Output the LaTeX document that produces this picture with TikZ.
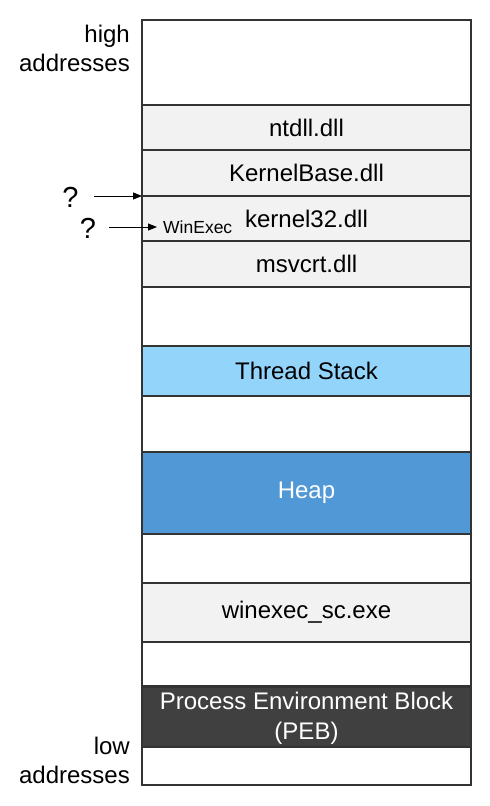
\documentclass[tikz,border=0pt]{standalone}
\usepackage{fontspec}
\setmainfont{Liberation Sans}
\usetikzlibrary{arrows.meta}
\definecolor{bandgray}{HTML}{F2F2F2}
\definecolor{stackblue}{HTML}{93D4FB}
\definecolor{heapblue}{HTML}{5198D6}
\definecolor{pebgray}{HTML}{404040}
\definecolor{edge}{HTML}{333333}
\begin{document}
\begin{tikzpicture}[x=1pt,y=-1pt,
  band/.style={draw=edge, line width=1.4pt, minimum width=329pt, inner sep=0pt, outer sep=0pt,
    font=\fontsize{24}{28}\selectfont, text=black, align=center},
  side/.style={font=\fontsize{24}{29}\selectfont, align=right, anchor=east, inner sep=0pt},
  qmark/.style={font=\fontsize{29}{30}\selectfont, inner sep=0pt},
  ptr/.style={-{Triangle[length=9pt,width=7pt]}, line width=0.8pt, draw=black}]
\useasboundingbox (0,0) rectangle (490,806);
\fill[white] (0,0) rectangle (490,806);
\node[band, fill=white, minimum height=85pt] (top) at (306.5,62.5) {};
\node[band, fill=bandgray, minimum height=45pt] (ntdll) at (306.5,127.5) {ntdll.dll};
\node[band, fill=bandgray, minimum height=46pt] (kbase) at (306.5,173) {KernelBase.dll};
\node[band, fill=bandgray, minimum height=45pt] (k32) at (306.5,218.5) {};
\node[font=\fontsize{24}{28}\selectfont, inner sep=0pt] (k32t) at (306.5,218.5) {kernel32.dll};
\node[band, fill=bandgray, minimum height=46pt] (msvcrt) at (306.5,264) {msvcrt.dll};
\node[band, fill=white, minimum height=59pt] (w1) at (306.5,316.5) {};
\node[band, fill=stackblue, minimum height=50pt] (ts) at (306.5,371) {Thread Stack};
\node[band, fill=white, minimum height=56pt] (w2) at (306.5,424) {};
\node[band, fill=heapblue, minimum height=82pt, text=white] (heap) at (306.5,493) {Heap};
\node[band, fill=white, minimum height=49pt] (w3) at (306.5,558.5) {};
\node[band, fill=bandgray, minimum height=59pt] (exe) at (306.5,612.5) {winexec\_sc.exe};
\node[band, fill=white, minimum height=44pt] (w4) at (306.5,664) {};
\node[band, fill=pebgray, minimum height=61pt, text=white, font=\fontsize{24}{30}\selectfont] (peb) at (306.5,718) {Process Environment Block\\(PEB)};
\node[band, fill=white, minimum height=38pt] (w5) at (306.5,766) {};
\node[side] (high) at (130,48) {high\\addresses};
\node[side] (low) at (130,760) {low\\addresses};
\node[qmark] (q1) at (70.5,197) {?};
\node[qmark] (q2) at (88,228) {?};
\node[font=\fontsize{17.5}{20}\selectfont, anchor=west, inner sep=0pt] (winexec) at (163,227) {WinExec};
\coordinate (a1s) at (94,196);
\coordinate (a2s) at (109,227);
\draw[ptr] (a1s) -- (kbase.south west);
\draw[ptr] (a2s) -- ([xshift=-6pt]winexec.west |- a2s);
\end{tikzpicture}
\end{document}
